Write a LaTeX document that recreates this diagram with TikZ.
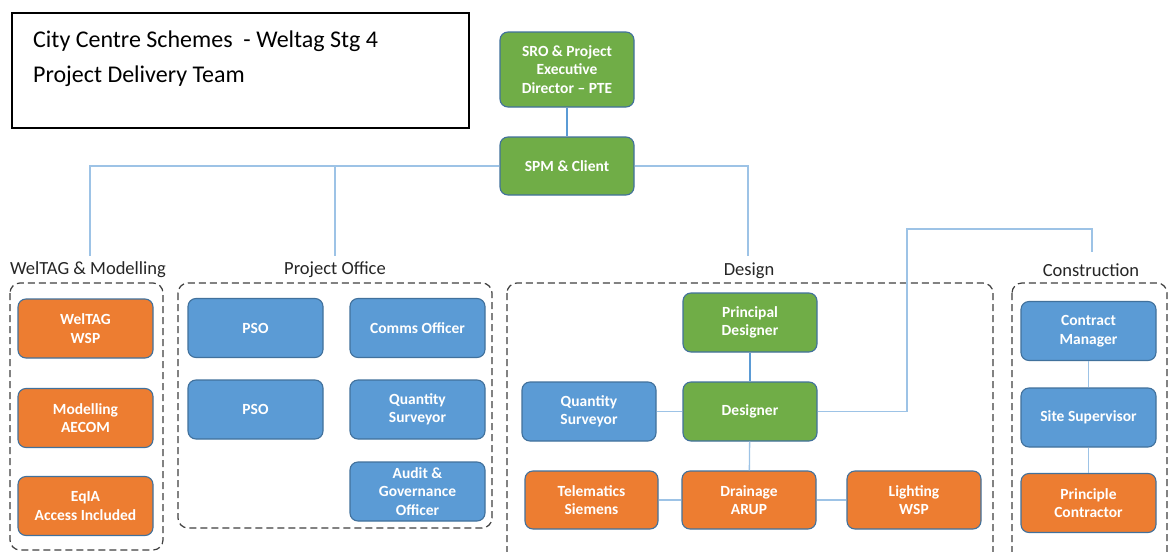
\documentclass[tikz,border=0pt]{standalone}
\usepackage{fontspec}
\setmainfont{Carlito}
\definecolor{gr}{HTML}{70AD47}
\definecolor{bl}{HTML}{5B9BD5}
\definecolor{og}{HTML}{ED7D31}
\definecolor{edge}{HTML}{41719C}
\definecolor{conn}{HTML}{9DC3E6}
\definecolor{conn2}{HTML}{5B9BD5}
\definecolor{grp}{HTML}{404040}
\tikzset{
  box/.style={rounded corners=8pt, draw=edge, line width=1.1pt, text=white,
    font=\fontsize{15.5}{18.5}\selectfont\bfseries, align=center,
    minimum width=135pt, minimum height=59pt, inner sep=2pt},
  gbox/.style={box, fill=gr},
  bbox/.style={box, fill=bl},
  obox/.style={box, fill=og},
  conline/.style={draw=conn, line width=1.3pt},
  conline2/.style={draw=conn2, line width=1.3pt},
  group/.style={draw=grp, dashed, dash pattern=on 7pt off 4pt, line width=1.2pt, rounded corners=10pt},
  glabel/.style={font=\fontsize{18.5}{22}\selectfont, text=black!85, inner sep=0pt},
}
\begin{document}
\begin{tikzpicture}[x=1pt,y=-1pt]
\useasboundingbox (0,0) rectangle (1171,552);
\clip (0,0) rectangle (1171,552);
\fill[white] (0,0) rectangle (1171,552);

% title box
\draw[line width=1.5pt] (12,13) rectangle (469,128);
\node[anchor=base west, inner sep=0pt, font=\fontsize{24}{28}\selectfont] (t1) at (33,47) {City Centre Schemes \ - Weltag Stg 4};
\node[anchor=base west, inner sep=0pt, font=\fontsize{24}{28}\selectfont] (t2) at (33,82) {Project Delivery Team};

% top nodes
\node[gbox, minimum height=75pt, minimum width=134pt] (sro) at (567,69.5) {SRO \& Project\\Executive\\Director -- PTE};
\node[gbox, minimum height=58pt, minimum width=134pt] (spm) at (567,166) {SPM \& Client};

% group dashed boxes
\draw[group] (10,283) rectangle (163,550);
\draw[group] (178,283) rectangle (492,528);
\draw[group] (507,283) rectangle (993,575);
\draw[group] (1012,283) rectangle (1167,575);

% group labels
\node[glabel] (lwt) at (88,270) {WelTAG \& Modelling};
\node[glabel] (lpo) at (335,270) {Project Office};
\node[glabel] (lde) at (749,271) {Design};
\node[glabel] (lco) at (1091,270) {Construction};

\coordinate (cwt) at (90,256);
\coordinate (cpo) at (335,256);
\coordinate (cde) at (748,256);
\coordinate (cco) at (1092,252);
\coordinate (jog) at (907,229);

% WelTAG
\node[obox] (wt1) at (85.5,328.5) {WelTAG\\WSP};
\node[obox] (wt2) at (85.5,418) {Modelling\\AECOM};
\node[obox] (wt3) at (85.5,506) {EqIA\\Access Included};

% Project office
\node[bbox] (pso1) at (255.5,328) {PSO};
\node[bbox] (pso2) at (255.5,409.5) {PSO};
\node[bbox] (comms) at (417.5,328) {Comms Officer};
\node[bbox] (qs1) at (417.5,409.5) {Quantity\\Surveyor};
\node[bbox] (audit) at (417.5,491.5) {Audit \&\\Governance\\Officer};

% Design
\node[gbox, minimum width=134pt] (pd) at (750,322.5) {Principal\\Designer};
\node[gbox, minimum width=134pt] (des) at (750,411.5) {Designer};
\node[bbox, minimum width=134pt] (qs2) at (589,411.5) {Quantity\\Surveyor};
\node[obox, minimum width=133pt, minimum height=58pt] (tel) at (591.5,500) {Telematics\\Siemens};
\node[obox, minimum width=134pt, minimum height=58pt] (dra) at (749,500) {Drainage\\ARUP};
\node[obox, minimum width=134pt, minimum height=58pt] (lig) at (914,500) {Lighting\\WSP};

% Construction
\node[bbox] (cm) at (1088.5,331) {Contract\\Manager};
\node[bbox] (ss) at (1088.5,417.5) {Site Supervisor};
\node[obox] (pc) at (1088.5,503) {Principle\\Contractor};

% connectors
\draw[conline2] (sro) -- (spm);
\draw[conline] (spm.west) -| (cwt);
\draw[conline] (spm.west) -| (cpo);
\draw[conline] (spm.east) -| (cde);
\draw[conline] (des.east) -| (jog) -| (cco);
\draw[conline2] (pd) -- (des);
\draw[conline] (qs2) -- (des);
\draw[conline] (des) -- (dra);
\draw[conline] (tel) -- (dra);
\draw[conline] (dra) -- (lig);
\draw[conline] (cm) -- (ss);
\draw[conline] (ss) -- (pc);
\end{tikzpicture}
\end{document}
